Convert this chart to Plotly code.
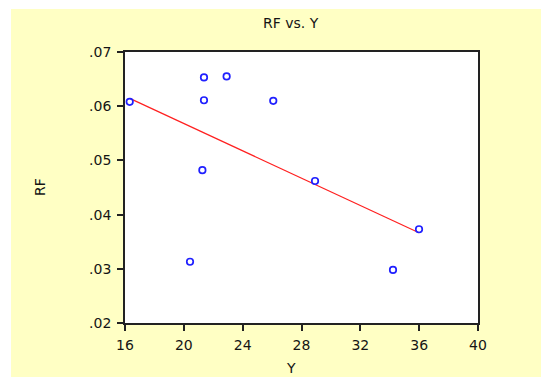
import numpy as np
import plotly.graph_objects as go

# Data
y_vals = [16.32, 21.37, 22.91, 21.37, 21.26, 26.08, 28.92, 20.42, 35.99, 34.22]
rf_vals = [0.0608, 0.0653, 0.0655, 0.0611, 0.0482, 0.0610, 0.0462, 0.0313, 0.0373, 0.0298]

x_tickvals = [16, 20, 24, 28, 32, 36, 40]
y_tickvals = [0.02, 0.03, 0.04, 0.05, 0.06, 0.07]
y_ticktext = [".02", ".03", ".04", ".05", ".06", ".07"]

# Linear regression fit
slope, intercept = np.polyfit(y_vals, rf_vals, 1)
fit_x = [min(y_vals), max(y_vals)]
fit_y = [slope * v + intercept for v in fit_x]

FONT = "DejaVu Sans, Liberation Sans, Arial, sans-serif"
TXT = "#151515"

fig = go.Figure()
fig.add_trace(go.Scatter(x=fit_x, y=fit_y, mode="lines",
                         line=dict(color="#ff2020", width=1.2),
                         hoverinfo="skip", showlegend=False))
fig.add_trace(go.Scatter(x=y_vals, y=rf_vals, mode="markers",
                         marker=dict(symbol="circle-open", size=6.5,
                                     color="#2020ff", line=dict(width=1.7, color="#2020ff")),
                         showlegend=False))

W, H = 541, 378
L, R, T, B = 125, 478, 52, 323
pw, ph = R - L, B - T

def px_x(v):
    return (v - L) / pw

def px_y(v):
    return (B - v) / ph

fig.update_layout(
    width=W, height=H,
    margin=dict(l=L, r=W - R, t=T, b=H - B, pad=0),
    paper_bgcolor="white",
    plot_bgcolor="white",
    font=dict(family=FONT, size=14, color=TXT),
    shapes=[
        dict(type="rect", xref="paper", yref="paper",
             x0=px_x(11), x1=px_x(541), y0=px_y(377), y1=px_y(9),
             fillcolor="#FFFFC4", line=dict(width=0), layer="below"),
        dict(type="rect", xref="paper", yref="paper",
             x0=0, x1=1, y0=0, y1=1,
             fillcolor="white", line=dict(width=0), layer="below"),
    ],
    annotations=[
        dict(text="RF vs. Y", xref="paper", yref="paper", x=px_x(291), y=px_y(23),
             xanchor="center", yanchor="middle", showarrow=False,
             font=dict(family=FONT, size=14, color=TXT)),
        dict(text="RF", xref="paper", yref="paper", x=px_x(40), y=px_y(187),
             xanchor="center", yanchor="middle", showarrow=False, textangle=-90,
             font=dict(family=FONT, size=14, color=TXT)),
        dict(text="Y", xref="paper", yref="paper", x=px_x(291), y=px_y(368),
             xanchor="center", yanchor="middle", showarrow=False,
             font=dict(family=FONT, size=14, color=TXT)),
    ],
)

fig.update_xaxes(range=[16, 40], tickvals=x_tickvals, ticks="outside", ticklen=6,
                 tickcolor="#222", tickwidth=1.5,
                 showline=True, linecolor="#222", linewidth=1.8, mirror=True,
                 showgrid=False, zeroline=False, ticklabelstandoff=2)
fig.update_yaxes(range=[0.02, 0.07], tickvals=y_tickvals, ticktext=y_ticktext,
                 ticks="outside", ticklen=6, tickcolor="#222", tickwidth=1.5,
                 showline=True, linecolor="#222", linewidth=1.8, mirror=True,
                 showgrid=False, zeroline=False, ticklabelstandoff=3)

fig.write_html("out.html", config={"displayModeBar": False},
               post_script="document.body.style.margin='0';document.body.style.overflow='hidden';")
